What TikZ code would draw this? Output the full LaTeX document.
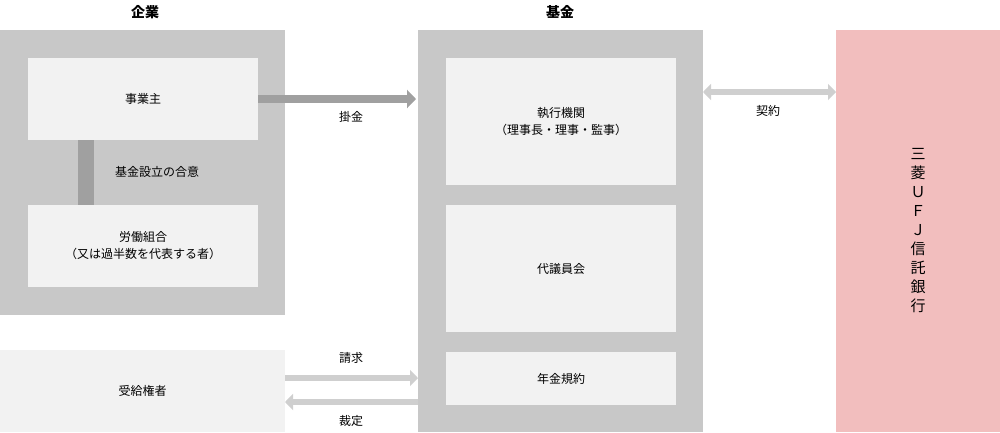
\documentclass[tikz,border=0pt]{standalone}
\usepackage{fontspec}
\setmainfont{Noto Sans CJK JP}
\usetikzlibrary{arrows.meta}
\definecolor{outer}{HTML}{C8C8C8}
\definecolor{inner}{HTML}{F2F2F2}
\definecolor{dark}{HTML}{A0A0A0}
\definecolor{lite}{HTML}{CFCFCF}
\definecolor{bank}{HTML}{F2BEBE}
\begin{document}
\begin{tikzpicture}[x=1pt,y=-1pt,
  txt/.style={font=\fontsize{12}{17}\selectfont,align=center},
  hdr/.style={font=\fontsize{14}{17}\selectfont\bfseries},
  fat/.style={line width=8pt,-{Triangle[length=9pt,width=18pt]}}]
\useasboundingbox (0,0) rectangle (1000,432);
% outer boxes
\fill[outer] (0,30) rectangle (285,315);
\fill[outer] (418,30) rectangle (703,432);
\fill[bank] (836,30) rectangle (1000,432);
\fill[dark] (78,140) rectangle (94,205);
% inner boxes
\node[fill=inner,minimum width=230pt,minimum height=82pt,txt] (emp) at (143,99) {事業主};
\node[fill=inner,minimum width=230pt,minimum height=82pt,txt] (union) at (143,246) {労働組合\\（又は過半数を代表する者）};
\node[fill=inner,minimum width=285pt,minimum height=82pt,txt] (ben) at (142.5,391) {受給権者};
\node[fill=inner,minimum width=230pt,minimum height=127pt,txt] (exec) at (561,121.5) {執行機関\\（理事長・理事・監事）};
\node[fill=inner,minimum width=230pt,minimum height=127pt,txt] (rep) at (561,268.5) {代議員会};
\node[fill=inner,minimum width=230pt,minimum height=53pt,txt] (rule) at (561,378.5) {年金規約};
\node[txt] (agree) at (157,172) {基金設立の合意};
% headers
\node[hdr] (h1) at (145,12) {企業};
\node[hdr] (h2) at (560,12) {基金};
\node[font=\fontsize{15}{19}\selectfont,align=center] (bk) at (918,231) {三\\菱\\Ｕ\\Ｆ\\Ｊ\\信\\託\\銀\\行};
% coordinates
\coordinate (a1) at (258,99); \coordinate (a2) at (416,99);
\coordinate (c1) at (703,92); \coordinate (c2) at (836,92);
\coordinate (r1) at (285,378); \coordinate (r2) at (418,378);
\coordinate (d1) at (418,402); \coordinate (d2) at (285,402);
\draw[fat,dark] (a1) -- (a2);
\draw[lite,line width=6pt,{Triangle[length=8pt,width=16pt]}-{Triangle[length=8pt,width=16pt]}] (c1) -- (c2);
\draw[lite,line width=6pt,-{Triangle[length=8pt,width=16pt]}] (r1) -- (r2);
\draw[lite,line width=6pt,-{Triangle[length=8pt,width=16pt]}] (d1) -- (d2);
\node[txt] (l1) at (351,117) {掛金};
\node[txt] (l2) at (768,111) {契約};
\node[txt] (l3) at (351,358) {請求};
\node[txt] (l4) at (351,421) {裁定};
\end{tikzpicture}
\end{document}
